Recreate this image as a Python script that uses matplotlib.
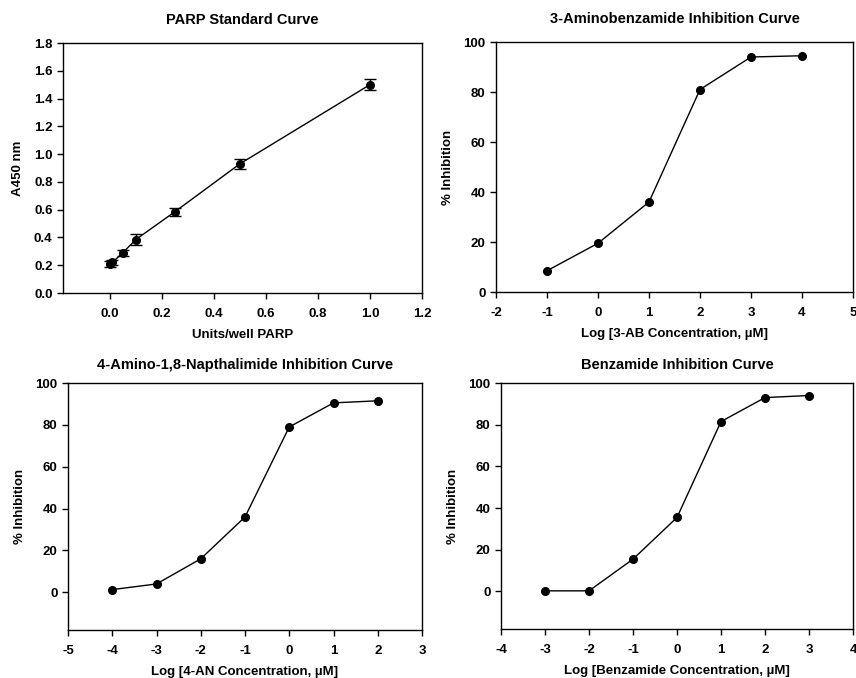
import matplotlib
matplotlib.use("Agg")
import matplotlib.pyplot as plt

plt.rcParams["font.family"] = ["Liberation Sans", "DejaVu Sans"]
plt.rcParams["font.weight"] = "bold"
plt.rcParams["axes.unicode_minus"] = False

# PARP standard curve
parp_units = [0.0, 0.01, 0.05, 0.1, 0.25, 0.5, 1.0]
parp_a450 = [0.21, 0.22, 0.29, 0.385, 0.585, 0.93, 1.50]
parp_err = [0.02, 0.02, 0.02, 0.04, 0.03, 0.035, 0.04]

# 3-aminobenzamide
ab_log = [-1, 0, 1, 2, 3, 4]
ab_inh = [8.5, 19.5, 36, 81, 94, 94.5]

# 4-amino-1,8-napthalimide
an_log = [-4, -3, -2, -1, 0, 1, 2]
an_inh = [1.3, 4, 16, 36, 79, 90.5, 91.5]

# benzamide
bz_log = [-3, -2, -1, 0, 1, 2, 3]
bz_inh = [0.3, 0.3, 15.5, 35.5, 81.5, 93, 94]

fig = plt.figure(figsize=(8.56, 6.78), dpi=100)
W, H = 856, 678


def make_ax(l, r, t, b):
    return fig.add_axes([l / W, 1 - b / H, (r - l) / W, (b - t) / H])


def style(ax, title, xlabel, ylabel, title_pad=14):
    ax.set_title(title, fontsize=10.5, fontweight="bold", pad=title_pad)
    ax.set_xlabel(xlabel, fontsize=9.5, fontweight="bold", labelpad=6)
    ax.set_ylabel(ylabel, fontsize=9.5, fontweight="bold", labelpad=7)
    ax.tick_params(direction="out", length=4, width=1, labelsize=9.5,
                   top=False, right=False)
    ax.tick_params(axis="x", pad=7)
    for lab in ax.get_xticklabels() + ax.get_yticklabels():
        lab.set_fontweight("bold")
    for sp in ax.spines.values():
        sp.set_linewidth(1)


ax1 = make_ax(63, 422, 43, 293)
ax1.errorbar(parp_units, parp_a450, yerr=parp_err, color="black", marker="o",
             markersize=5.5, linewidth=1, capsize=4, elinewidth=1)
ax1.set_xlim(-0.18, 1.2)
ax1.set_ylim(0, 1.8)
ax1.set_xticks([0.0, 0.2, 0.4, 0.6, 0.8, 1.0, 1.2])
ax1.set_yticks([0.0, 0.2, 0.4, 0.6, 0.8, 1.0, 1.2, 1.4, 1.6, 1.8])
ax1.xaxis.set_major_formatter(matplotlib.ticker.FormatStrFormatter("%.1f"))
ax1.yaxis.set_major_formatter(matplotlib.ticker.FormatStrFormatter("%.1f"))
style(ax1, "PARP Standard Curve", "Units/well PARP", "A450 nm")

ax2 = make_ax(496, 853, 42, 292)
ax2.plot(ab_log, ab_inh, color="black", marker="o", markersize=5.5, linewidth=1)
ax2.set_xlim(-2, 5)
ax2.set_ylim(0, 100)
ax2.set_xticks(range(-2, 6))
ax2.set_yticks(range(0, 101, 20))
style(ax2, "3-Aminobenzamide Inhibition Curve",
      "Log [3-AB Concentration, \u00b5M]", "% Inhibition")

ax3 = make_ax(68, 422, 383, 630)
ax3.plot(an_log, an_inh, color="black", marker="o", markersize=5.5, linewidth=1)
ax3.set_xlim(-5, 3)
ax3.set_ylim(-18, 100)
ax3.set_xticks(range(-5, 4))
ax3.set_yticks(range(0, 101, 20))
style(ax3, "4-Amino-1,8-Napthalimide Inhibition Curve",
      "Log [4-AN Concentration, \u00b5M]", "% Inhibition", title_pad=10)

ax4 = make_ax(501, 853, 383, 629)
ax4.plot(bz_log, bz_inh, color="black", marker="o", markersize=5.5, linewidth=1)
ax4.set_xlim(-4, 4)
ax4.set_ylim(-18, 100)
ax4.set_xticks(range(-4, 5))
ax4.set_yticks(range(0, 101, 20))
style(ax4, "Benzamide Inhibition Curve",
      "Log [Benzamide Concentration, \u00b5M]", "% Inhibition", title_pad=10)

fig.savefig("out.png", dpi=100)
